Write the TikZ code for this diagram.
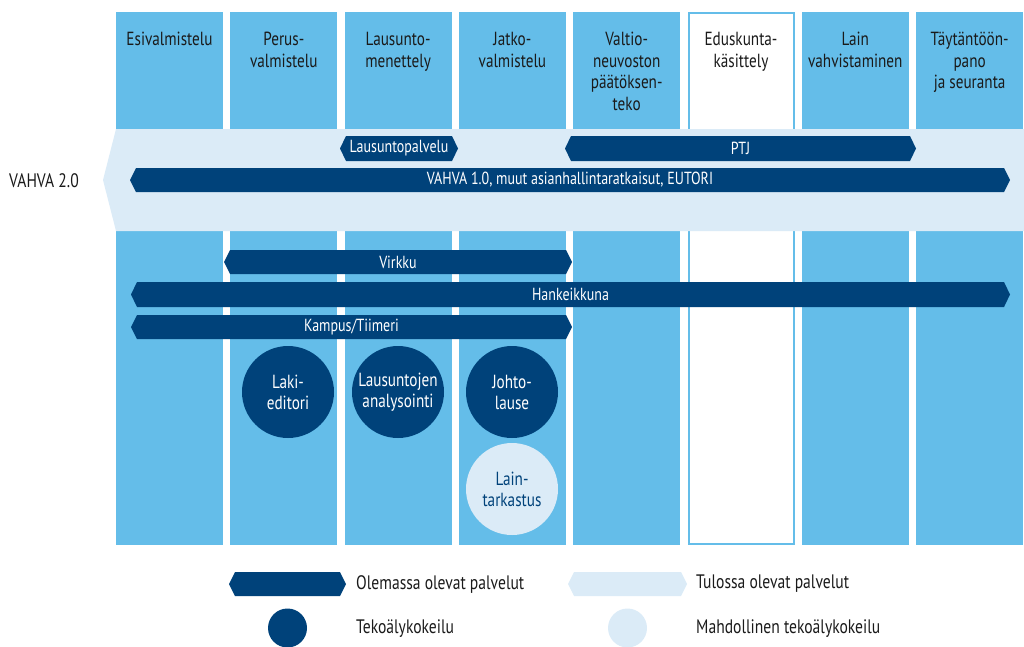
\documentclass[tikz,border=0pt]{standalone}
\usepackage{fontspec}
\setmainfont{PT Sans}[FakeStretch=0.8]
\definecolor{colblue}{HTML}{64BDE9}
\definecolor{navy}{HTML}{00427A}
\definecolor{pale}{HTML}{DBEBF7}
\definecolor{ink}{HTML}{1A1A1A}

% hexagonal service bar: name, colour, x1, x2, y1, y2, label
\newcommand\svcbar[7]{%
  \fill[#2] (#3,{(#5+#6)/2}) -- (#3+6,#5) -- (#4-6,#5) -- (#4,{(#5+#6)/2})
    -- (#4-6,#6) -- (#3+6,#6) -- cycle;
  \node[bartext] (#1) at ({(#3+#4)/2},{(#5+#6)/2}) {#7};}

\begin{document}
\begin{tikzpicture}[x=1pt,y=-1pt,
  head/.style={font=\fontsize{19}{21.5}\selectfont, align=center, anchor=north,
    inner sep=0pt, text=ink},
  bartext/.style={font=\fontsize{17.5}{20}\selectfont, text=white, inner sep=0pt},
  aicircle/.style={circle, fill=navy, minimum size=92pt, inner sep=0pt, align=center,
    text=white, font=\fontsize{19}{21}\selectfont},
  maybecircle/.style={aicircle, fill=pale, text=navy},
  legtext/.style={anchor=west, inner sep=0pt, text=ink, font=\fontsize{19.5}{21}\selectfont},
]
\useasboundingbox (0,0) rectangle (1024,646);

% phase columns
\foreach \i in {0,1,2,3,4,6,7}
  \fill[colblue] (116+114.3*\i,12) rectangle ++(107,533);
\draw[colblue, fill=white, line width=2pt] (116+114.3*5+1,13) rectangle ++(105,531);

% phase headings
\foreach \i/\txt in {0/{Esivalmistelu}, 1/{Perus-\\valmistelu}, 2/{Lausunto-\\menettely},
    3/{Jatko-\\valmistelu}, 4/{Valtio-\\neuvoston\\päätöksen-\\teko},
    5/{Eduskunta-\\käsittely}, 6/{Lain\\vahvistaminen}, 7/{Täytäntöön-\\pano\\ja seuranta}}
  \node[head] (h\i) at (169.5+114.3*\i,32) {\txt};

% VAHVA 2.0 band
\fill[pale] (116,129) -- (1024,129) -- (1024,231) -- (116,231) -- (103,180) -- cycle;
\node[text=ink, inner sep=0pt, font=\fontsize{19.5}{21}\selectfont] (vahva2) at (44,181) {VAHVA 2.0};

% existing services
\svcbar{lausunto}{navy}{340}{458}{136}{161}{Lausuntopalvelu}
\svcbar{ptj}{navy}{565}{916}{136}{161}{PTJ}
\svcbar{vahva1}{navy}{130}{1010}{168}{192}{VAHVA 1.0, muut asianhallintaratkaisut, EUTORI}
\svcbar{virkku}{navy}{224}{572}{250}{274}{Virkku}
\svcbar{hanke}{navy}{131}{1010}{282}{307}{Hankeikkuna}
\svcbar{kampus}{navy}{131}{572}{315}{339}{Kampus/Tiimeri}

% AI pilots
\node[aicircle] (laki) at (288,392) {Laki-\\editori};
\node[aicircle] (analyysi) at (398,392) {Lausuntojen\\analysointi};
\node[aicircle] (johto) at (512,392) {Johto-\\lause};
\node[maybecircle] (laintark) at (512,489) {Lain-\\tarkastus};

% legend
\svcbar{legold}{navy}{229}{346}{572}{596}{}
\node[legtext] (legoldt) at (356,584) {Olemassa olevat palvelut};
\svcbar{legnew}{pale}{568}{687}{572}{596}{}
\node[legtext] (legnewt) at (696,584) {Tulossa olevat palvelut};
\node[aicircle, minimum size=39pt] (legai) at (287.5,628) {};
\node[legtext] (legait) at (356,629) {Tekoälykokeilu};
\node[maybecircle, minimum size=39pt] (legmaybe) at (627.5,628) {};
\node[legtext] (legmaybet) at (696,629) {Mahdollinen tekoälykokeilu};
\end{tikzpicture}
\end{document}
